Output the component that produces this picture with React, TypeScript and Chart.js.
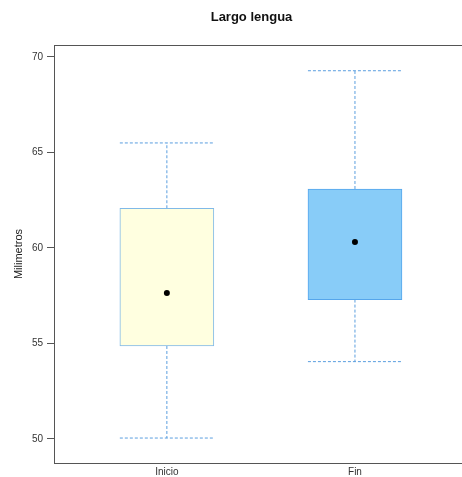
import React, { useEffect, useRef } from 'react';
import { Chart, registerables } from 'chart.js';

Chart.register(...registerables);

// ---- data ----
const categories = ['Inicio', 'Fin'];
const positions = [1, 2];
const whiskerLow = [50.05, 54.05];
const q1 = [54.87, 57.3];
const medians = [57.64, 60.31];
const q3 = [62.08, 63.09];
const whiskerHigh = [65.5, 69.28];
const yTicks = [50, 55, 60, 65, 70];

// ---- style ----
const FONT = "'Liberation Sans', Arial, Helvetica, sans-serif";
const boxFill = ['#FFFFE0', '#88CCF8'];
const boxBorder = ['#80B9E8', '#55A6EC'];
const whiskerColor = '#5A9EDF';
const axisColor = '#555555';
const capHalf = 0.25;

const framePlugin = {
  id: 'frameTop',
  afterLayout(chart: any) {
    if (chart.titleBlock) {
      chart.titleBlock.left = 41;
    }
  },
  afterDraw(chart: any) {
    const { ctx, chartArea } = chart;
    ctx.save();
    ctx.strokeStyle = axisColor;
    ctx.lineWidth = 1;
    ctx.beginPath();
    ctx.moveTo(chartArea.left, Math.round(chartArea.top) + 0.5);
    ctx.lineTo(chartArea.right, Math.round(chartArea.top) + 0.5);
    ctx.stroke();
    ctx.restore();
  },
};

export default function App() {
  const ref = useRef<HTMLCanvasElement | null>(null);

  useEffect(() => {
    if (!ref.current) return;

    const whiskerSets: any[] = [];
    positions.forEach((p, i) => {
      const segs = [
        [{ x: p, y: q3[i] }, { x: p, y: whiskerHigh[i] }],
        [{ x: p, y: q1[i] }, { x: p, y: whiskerLow[i] }],
        [{ x: p - capHalf, y: whiskerHigh[i] }, { x: p + capHalf, y: whiskerHigh[i] }],
        [{ x: p - capHalf, y: whiskerLow[i] }, { x: p + capHalf, y: whiskerLow[i] }],
      ];
      segs.forEach((seg) => {
        whiskerSets.push({
          type: 'line',
          data: seg,
          borderColor: whiskerColor,
          borderWidth: 1,
          borderDash: [3, 2],
          pointRadius: 0,
          fill: false,
          order: 3,
        });
      });
    });

    const chart = new Chart(ref.current, {
      type: 'bar',
      data: {
        datasets: [
          {
            type: 'scatter',
            data: positions.map((p, i) => ({ x: p, y: medians[i] })),
            backgroundColor: '#000000',
            borderWidth: 0,
            pointRadius: 3,
            order: 1,
          } as any,
          {
            type: 'bar',
            data: positions.map((p, i) => ({ x: p, y: [q1[i], q3[i]] })),
            backgroundColor: boxFill,
            borderColor: boxBorder,
            borderWidth: 1,
            borderSkipped: false,
            barThickness: 94,
            grouped: false,
            order: 2,
          } as any,
          ...whiskerSets,
        ],
      },
      options: {
        responsive: false,
        animation: false,
        layout: { padding: 0, autoPadding: false },
        plugins: {
          legend: { display: false },
          tooltip: { enabled: false },
          title: {
            display: true,
            text: 'Largo lengua',
            color: '#111111',
            font: { family: FONT, size: 13, weight: 'bold' },
            padding: { top: 10, bottom: 19.4 },
          },
        },
        scales: {
          x: {
            type: 'linear',
            min: 0.4,
            max: 2.569,
            offset: false,
            afterBuildTicks: (axis: any) => {
              axis.ticks = positions.map((v) => ({ value: v }));
            },
            afterFit: (axis: any) => {
              axis.height = 14;
            },
            ticks: {
              callback: (v: any) => {
                const idx = positions.indexOf(Number(v));
                return idx >= 0 ? categories[idx] : '';
              },
              font: { family: FONT, size: 10 },
              color: '#333333',
              padding: 3,
              maxRotation: 0,
              autoSkip: false,
            },
            grid: { display: true, drawOnChartArea: false, drawTicks: false, color: axisColor },
            border: { display: true, color: axisColor, width: 1 },
          },
          y: {
            type: 'linear',
            min: 48.743,
            max: 70.628,
            afterBuildTicks: (axis: any) => {
              axis.ticks = yTicks.map((v) => ({ value: v }));
            },
            afterFit: (axis: any) => {
              axis.width = 54;
            },
            ticks: {
              font: { family: FONT, size: 10 },
              color: '#333333',
              padding: 4,
            },
            grid: {
              display: true,
              drawOnChartArea: false,
              drawTicks: true,
              tickLength: 7,
              color: axisColor,
            },
            border: { display: true, color: axisColor, width: 1 },
            title: {
              display: true,
              text: 'Milimetros',
              color: '#222222',
              font: { family: FONT, size: 11 },
              padding: { top: 12, bottom: 0 },
            },
          },
        },
      } as any,
      plugins: [framePlugin],
    });

    return () => chart.destroy();
  }, []);

  return (
    <div style={{ position: 'fixed', left: 0, top: 0, width: 462, height: 477 }}>
      <canvas ref={ref} width={462} height={477} style={{ display: 'block' }} />
    </div>
  );
}
